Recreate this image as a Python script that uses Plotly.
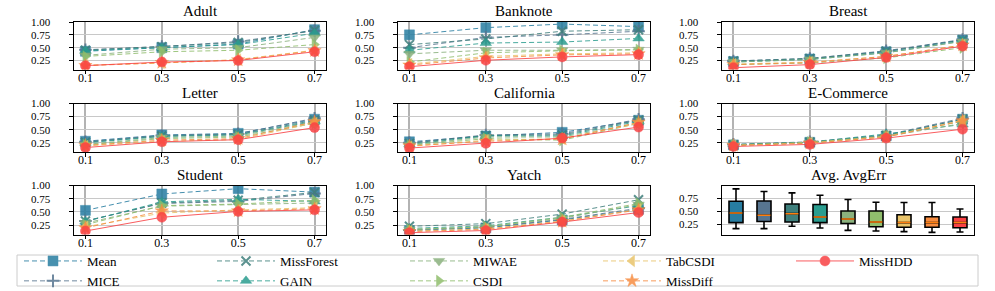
import plotly.graph_objects as go

# ---------------- data ----------------
missing_rates = [0.1, 0.3, 0.5, 0.7]
methods = ["Mean", "MICE", "MissForest", "GAIN", "MIWAE", "CSDI", "TabCSDI", "MissDiff", "MissHDD"]
datasets = ["Adult", "Banknote", "Breast", "Letter", "California", "E-Commerce", "Student", "Yatch"]

# rows follow `methods` order, columns follow `missing_rates`
adult = [
    [0.43, 0.50, 0.57, 0.85],
    [0.46, 0.52, 0.62, 0.83],
    [0.45, 0.52, 0.60, 0.84],
    [0.44, 0.50, 0.56, 0.78],
    [0.35, 0.47, 0.50, 0.70],
    [0.33, 0.42, 0.45, 0.56],
    [0.16, 0.20, 0.27, 0.45],
    [0.15, 0.21, 0.26, 0.44],
    [0.15, 0.22, 0.25, 0.42],
]
banknote = [
    [0.75, 0.89, 0.96, 0.91],
    [0.50, 0.70, 0.75, 0.82],
    [0.56, 0.67, 0.82, 0.85],
    [0.45, 0.59, 0.61, 0.68],
    [0.38, 0.45, 0.45, 0.46],
    [0.22, 0.40, 0.44, 0.46],
    [0.18, 0.33, 0.38, 0.40],
    [0.16, 0.30, 0.36, 0.38],
    [0.13, 0.255, 0.32, 0.365],
]
breast = [
    [0.23, 0.28, 0.42, 0.65],
    [0.24, 0.29, 0.44, 0.66],
    [0.24, 0.29, 0.43, 0.65],
    [0.22, 0.27, 0.40, 0.63],
    [0.22, 0.27, 0.40, 0.62],
    [0.17, 0.20, 0.30, 0.50],
    [0.18, 0.22, 0.33, 0.55],
    [0.17, 0.21, 0.33, 0.55],
    [0.11, 0.17, 0.31, 0.53],
]
letter = [
    [0.28, 0.40, 0.43, 0.70],
    [0.27, 0.39, 0.42, 0.72],
    [0.26, 0.38, 0.41, 0.68],
    [0.25, 0.37, 0.40, 0.66],
    [0.22, 0.35, 0.38, 0.65],
    [0.21, 0.33, 0.36, 0.62],
    [0.19, 0.28, 0.31, 0.63],
    [0.20, 0.30, 0.33, 0.65],
    [0.16, 0.27, 0.31, 0.54],
]
california = [
    [0.27, 0.38, 0.45, 0.68],
    [0.25, 0.40, 0.42, 0.70],
    [0.24, 0.39, 0.40, 0.68],
    [0.22, 0.38, 0.38, 0.66],
    [0.21, 0.36, 0.36, 0.63],
    [0.20, 0.33, 0.30, 0.62],
    [0.18, 0.30, 0.33, 0.62],
    [0.19, 0.28, 0.32, 0.64],
    [0.15, 0.24, 0.34, 0.55],
]
ecommerce = [
    [0.21, 0.26, 0.38, 0.70],
    [0.22, 0.27, 0.40, 0.72],
    [0.21, 0.26, 0.39, 0.70],
    [0.22, 0.26, 0.42, 0.60],
    [0.20, 0.25, 0.37, 0.62],
    [0.21, 0.26, 0.38, 0.66],
    [0.20, 0.25, 0.37, 0.68],
    [0.20, 0.24, 0.36, 0.67],
    [0.18, 0.22, 0.34, 0.51],
]
student = [
    [0.53, 0.84, 0.94, 0.875],
    [0.33, 0.66, 0.70, 0.85],
    [0.33, 0.67, 0.72, 0.87],
    [0.32, 0.69, 0.74, 0.70],
    [0.29, 0.61, 0.64, 0.67],
    [0.26, 0.62, 0.65, 0.72],
    [0.22, 0.48, 0.54, 0.58],
    [0.20, 0.52, 0.52, 0.56],
    [0.14, 0.40, 0.51, 0.54],
]
yatch = [
    [0.15, 0.20, 0.35, 0.55],
    [0.16, 0.21, 0.36, 0.57],
    [0.23, 0.28, 0.46, 0.73],
    [0.19, 0.24, 0.40, 0.62],
    [0.17, 0.22, 0.38, 0.64],
    [0.17, 0.22, 0.40, 0.66],
    [0.14, 0.18, 0.33, 0.55],
    [0.13, 0.17, 0.32, 0.54],
    [0.11, 0.15, 0.31, 0.49],
]
dataset_values = [adult, banknote, breast, letter, california, ecommerce, student, yatch]

# Avg. AvgErr box statistics (per method)
box_low = [0.173, 0.173, 0.217, 0.185, 0.140, 0.127, 0.115, 0.100, 0.108]
box_q1 = [0.288, 0.308, 0.300, 0.288, 0.270, 0.210, 0.198, 0.198, 0.190]
box_median = [0.473, 0.429, 0.460, 0.396, 0.358, 0.300, 0.288, 0.288, 0.288]
box_q3 = [0.698, 0.704, 0.646, 0.635, 0.510, 0.510, 0.440, 0.400, 0.396]
box_high = [0.935, 0.885, 0.858, 0.813, 0.730, 0.679, 0.673, 0.673, 0.550]

y_ticks = [0.25, 0.50, 0.75, 1.00]
box_ticks = [0.25, 0.50, 0.75]

# ---------------- styles ----------------
colors = ["#277da1", "#577590", "#3f7f7c", "#2a9d8f", "#8ab17d",
          "#90be6d", "#e9c46a", "#f78c40", "#f94144"]
symbols = ["square", "cross-thin", "x-thin", "triangle-up", "triangle-down",
           "triangle-right", "triangle-left", "star", "circle"]
legend_rank = [1, 6, 2, 7, 3, 8, 4, 9, 5]

W, H = 995, 291
FONT = "Liberation Serif, Times New Roman, serif"


def fx(p):
    return p / W


def fy(p):
    return 1 - p / H


col_px = [(74, 326), (398, 650), (722, 974)]
row_px = [(22, 69.5), (103.5, 152), (185.5, 234.5)]

fig = go.Figure()
layout_axes = {}
annotations = []

for k in range(9):
    r, c = divmod(k, 3)
    n = k + 1
    xs = "" if n == 1 else str(n)
    xd = [fx(col_px[c][0]), fx(col_px[c][1])]
    yd = [fy(row_px[r][1]), fy(row_px[r][0])]
    title = datasets[k] if k < 8 else "Avg. AvgErr"
    annotations.append(dict(
        text=title, xref="paper", yref="paper",
        x=fx((col_px[c][0] + col_px[c][1]) / 2), y=fy(row_px[r][0] - 0.5),
        xanchor="center", yanchor="bottom", showarrow=False,
        font=dict(family=FONT, size=15, color="black")))

    common_ax = dict(showline=True, linecolor="black", linewidth=1.2, mirror=True,
                     ticks="outside", ticklen=3.5, tickcolor="black", tickwidth=1,
                     tickfont=dict(family=FONT, size=11, color="black"),
                     zeroline=False)
    if k < 8:
        layout_axes["xaxis" + xs] = dict(
            domain=xd, anchor="y" + xs, range=[0.07, 0.73],
            tickvals=missing_rates, ticktext=[f"{v:.1f}" for v in missing_rates],
            showgrid=True, gridcolor="#b3b3b3", gridwidth=1.5, ticklabelstandoff=-7,
            **{**common_ax, "tickfont": dict(family=FONT, size=12, color="black")})
        layout_axes["yaxis" + xs] = dict(
            domain=yd, anchor="x" + xs, range=[0.075, 1.0],
            tickvals=y_ticks, ticktext=[f"{v:.2f}" for v in y_ticks],
            showgrid=True, gridcolor="#c8c8c8", gridwidth=1, ticklabelstandoff=17,
            **common_ax)
        vals = dataset_values[k]
        for j, m in enumerate(methods):
            thin = symbols[j] in ("cross-thin", "x-thin")
            fig.add_trace(go.Scatter(
                x=missing_rates, y=vals[j], mode="lines+markers",
                name=m, legendgroup=m, showlegend=(k == 0), legendrank=legend_rank[j],
                xaxis="x" + xs, yaxis="y" + xs, opacity=0.85,
                line=dict(color=colors[j], width=1,
                          dash="solid" if m == "MissHDD" else "5px,3px"),
                marker=dict(symbol=symbols[j], size=10 if not thin else 9,
                            color=colors[j],
                            line=dict(color=colors[j], width=2 if thin else 0.5)),
            ))
    else:
        layout_axes["xaxis" + xs] = dict(
            domain=xd, anchor="y" + xs, range=[-0.5, 8.5],
            showticklabels=False, showgrid=False,
            showline=True, linecolor="black", linewidth=1.2, mirror=True,
            ticks="", zeroline=False)
        layout_axes["yaxis" + xs] = dict(
            domain=yd, anchor="x" + xs, range=[0.06, 1.0],
            tickvals=box_ticks, ticktext=[f"{v:.2f}" for v in box_ticks],
            showgrid=True, gridcolor="#c8c8c8", gridwidth=1, ticklabelstandoff=17,
            **common_ax)
        for j, m in enumerate(methods):
            fig.add_trace(go.Box(
                x=[j], q1=[box_q1[j]], median=[box_median[j]], q3=[box_q3[j]],
                lowerfence=[box_low[j]], upperfence=[box_high[j]],
                fillcolor=colors[j], line=dict(color="black", width=1.6),
                width=0.5, whiskerwidth=0.5, boxpoints=False,
                showlegend=False, name=m, xaxis="x" + xs, yaxis="y" + xs))
        mx, my = [], []
        for j in range(len(methods)):
            mx += [j - 0.23, j + 0.23, None]
            my += [box_median[j], box_median[j], None]
        fig.add_trace(go.Scatter(
            x=mx, y=my, mode="lines", line=dict(color="#ff7f0e", width=1.5),
            showlegend=False, hoverinfo="skip", xaxis="x" + xs, yaxis="y" + xs))

fig.update_layout(
    width=W, height=H,
    margin=dict(l=0, r=0, t=0, b=0, autoexpand=False),
    paper_bgcolor="white", plot_bgcolor="white",
    font=dict(family=FONT, size=13, color="black"),
    annotations=annotations,
    showlegend=True,
    legend=dict(
        orientation="h", x=fx(19), y=fy(246), xanchor="left", yanchor="top",
        bgcolor="rgba(0,0,0,0)", borderwidth=0,
        entrywidth=120, entrywidthmode="pixels", itemwidth=58,
        font=dict(family=FONT, size=13, color="black"),
        traceorder="normal",
    ),
    shapes=[dict(type="rect", xref="paper", yref="paper",
                 x0=fx(17), x1=fx(978), y0=fy(286), y1=fy(255),
                 line=dict(color="#cccccc", width=1), fillcolor="white",
                 layer="below")],
    **layout_axes,
)

fig.write_html("out.html", config={"displayModeBar": False},
               post_script="document.body.style.margin='0px';")
